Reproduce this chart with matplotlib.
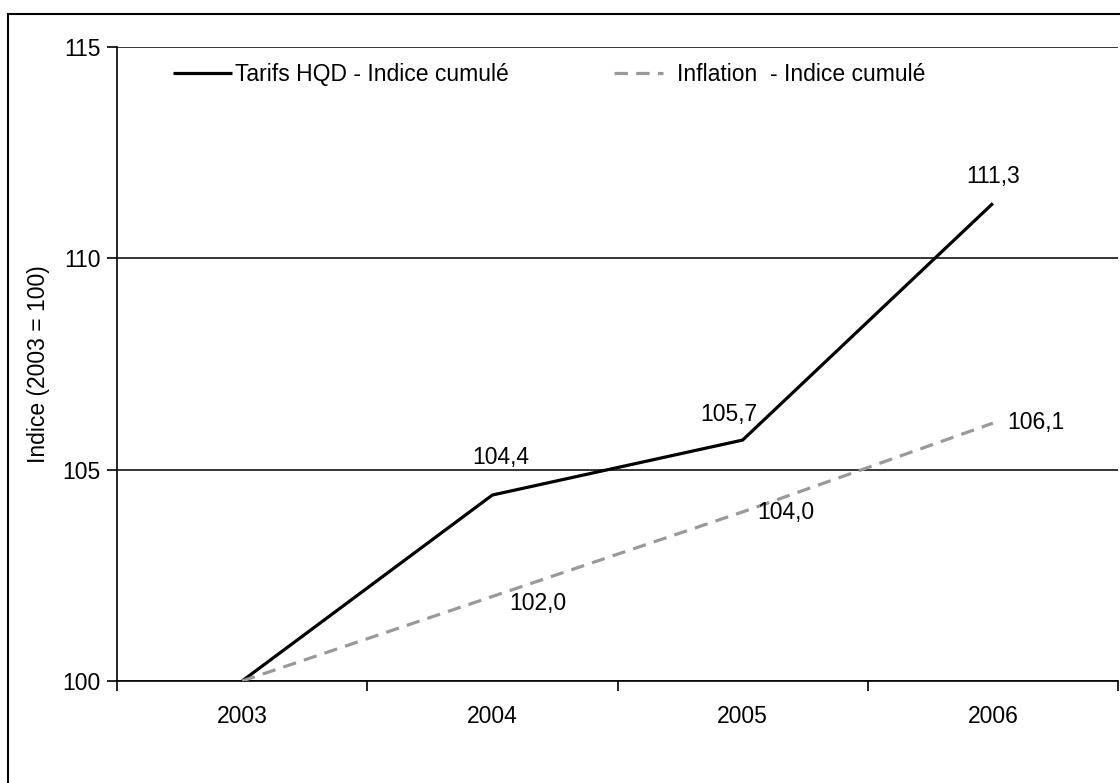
import matplotlib
matplotlib.use("Agg")
import matplotlib.pyplot as plt
from matplotlib.patches import Rectangle

plt.rcParams['font.family'] = ['Liberation Sans', 'DejaVu Sans']

annees = ['2003', '2004', '2005', '2006']
tarifs = [100.0, 104.4, 105.7, 111.3]
inflation = [100.0, 102.0, 104.0, 106.1]
lbl_tarifs = ['', '104,4', '105,7', '111,3']
lbl_inflation = ['', '102,0', '104,0', '106,1']

fs = 16.5

fig = plt.figure(figsize=(11.2, 7.83), dpi=100)
ax = fig.add_axes([117/1120, 1 - 681/783, (1118 - 117)/1120, (681 - 47)/783])

x = list(range(len(annees)))
l1, = ax.plot(x, tarifs, color='black', lw=2.3, solid_capstyle='butt',
              label='Tarifs HQD - Indice cumulé', zorder=3)
l2, = ax.plot(x, inflation, color='#999999', lw=2.3, dashes=(4.2, 2.6),
              label='Inflation  - Indice cumulé', zorder=3)

# etiquettes de donnees (decalages en pixels)
off_t = [(0, 0), (8, 38), (-14, 26), (0, 27)]
off_i = [(0, 0), (17, -7), (15, -1), (14, 1)]
for i in x:
    if lbl_tarifs[i]:
        ax.annotate(lbl_tarifs[i], (i, tarifs[i]), xytext=off_t[i], textcoords='offset pixels',
                    ha='center', va='center', fontsize=fs)
    if lbl_inflation[i]:
        ax.annotate(lbl_inflation[i], (i, inflation[i]), xytext=off_i[i], textcoords='offset pixels',
                    ha='left', va='center', fontsize=fs)

ax.set_xlim(-0.5, len(annees) - 0.5)
ax.set_ylim(100, 115)
ax.set_yticks([100, 105, 110, 115])
ax.set_yticklabels(['100', '105', '110', '115'], fontsize=fs)
ax.set_xticks(x)
ax.set_xticklabels(annees, fontsize=fs)
ax.set_xticks([i - 0.5 for i in range(len(annees) + 1)], minor=True)
ax.tick_params(axis='x', which='major', length=0, pad=17)
ax.tick_params(axis='x', which='minor', length=7, width=1.2, direction='out')
ax.tick_params(axis='y', length=7, width=1.2, direction='out', pad=5)
ax.yaxis.grid(True, color='black', lw=1.1)
ax.set_axisbelow(True)
for s in ['top', 'right']:
    ax.spines[s].set_visible(False)
for s in ['left', 'bottom']:
    ax.spines[s].set_linewidth(1.2)
ax.set_ylabel('Indice (2003 = 100)', fontsize=fs, labelpad=9)

# deux legendes pour garder l'espacement d'origine
leg1 = ax.legend([l1], [l1.get_label()], loc='center left', bbox_to_anchor=(0.0559, 0.956),
                 frameon=False, fontsize=fs, borderpad=0, borderaxespad=0,
                 handlelength=2.58, handletextpad=0.12)
ax.add_artist(leg1)
ax.legend([l2], [l2.get_label()], loc='center left', bbox_to_anchor=(0.4965, 0.956),
          frameon=False, fontsize=fs, borderpad=0, borderaxespad=0,
          handlelength=2.14, handletextpad=0.6)

# cadre exterieur
fig.patches.append(Rectangle((8/1120, -0.2), 1.2, 1.2 - 14/783,
                             transform=fig.transFigure, fill=False, lw=1.5,
                             edgecolor='black'))

fig.savefig('out.png', dpi=100)
